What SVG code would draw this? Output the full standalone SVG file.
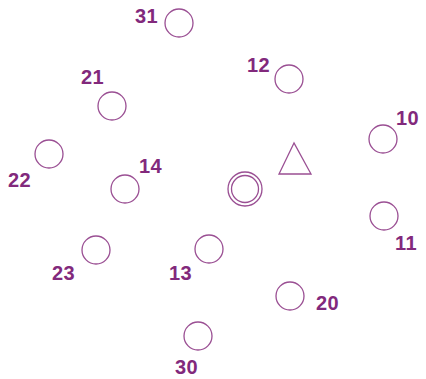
<svg xmlns="http://www.w3.org/2000/svg" width="426" height="379" viewBox="0 0 426 379">
<style>
.n{fill:none;stroke:#9a4f93;stroke-width:1.3}
.t{font-family:"Liberation Sans",Arial,sans-serif;font-weight:bold;font-size:20px;fill:#82297c;letter-spacing:0.5px}
</style>
<rect width="426" height="379" fill="#ffffff"/>
<g id="connectors"></g>
<g id="n31"><circle class="n" cx="179" cy="23" r="14"/><text class="t" x="135" y="23">31</text></g>
<g id="n12"><circle class="n" cx="289" cy="79" r="14"/><text class="t" x="247" y="72">12</text></g>
<g id="n21"><circle class="n" cx="112" cy="106" r="14"/><text class="t" x="81" y="84">21</text></g>
<g id="n10"><circle class="n" cx="383" cy="139" r="14"/><text class="t" x="396" y="125">10</text></g>
<g id="n22"><circle class="n" cx="49" cy="154" r="14"/><text class="t" x="8" y="187">22</text></g>
<g id="n14"><circle class="n" cx="125" cy="189" r="14"/><text class="t" x="139" y="173">14</text></g>
<g id="tri"><polygon class="n" points="294,143 279,174 311,174"/></g>
<g id="center"><circle class="n" cx="245" cy="189" r="17"/><circle class="n" cx="245" cy="189" r="13.5"/></g>
<g id="n11"><circle class="n" cx="384" cy="216" r="14"/><text class="t" x="395" y="250">11</text></g>
<g id="n23"><circle class="n" cx="96" cy="250" r="14"/><text class="t" x="52" y="280">23</text></g>
<g id="n13"><circle class="n" cx="209" cy="249" r="14"/><text class="t" x="169" y="280">13</text></g>
<g id="n20"><circle class="n" cx="290" cy="296" r="14"/><text class="t" x="316" y="310">20</text></g>
<g id="n30"><circle class="n" cx="198" cy="336" r="14"/><text class="t" x="175" y="374">30</text></g>
</svg>
